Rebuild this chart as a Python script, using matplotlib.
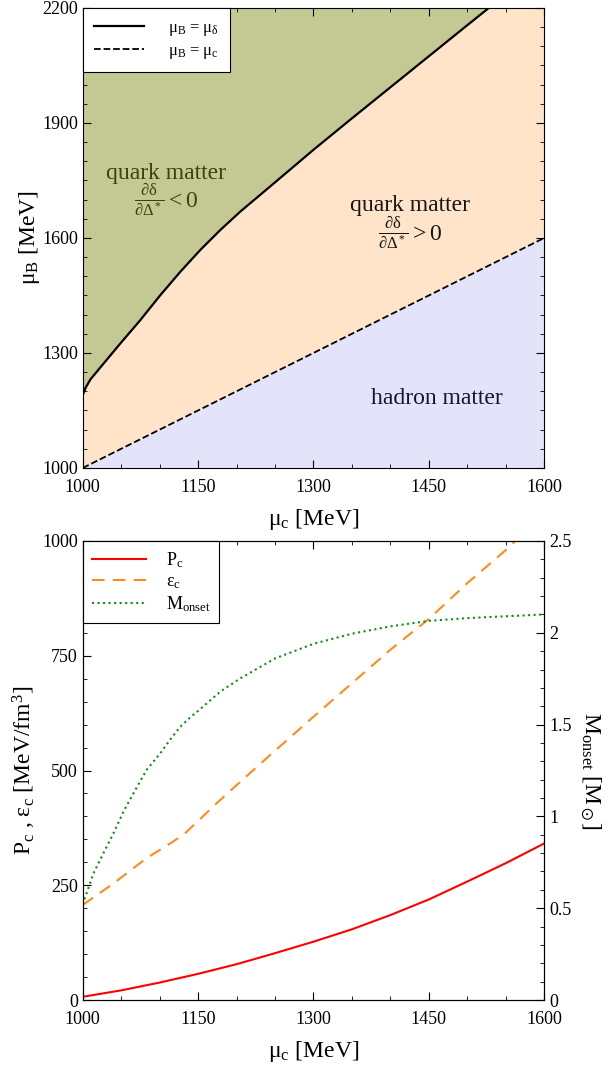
import matplotlib
matplotlib.use("Agg")
import matplotlib.pyplot as plt
from matplotlib.ticker import MultipleLocator

plt.rcParams['font.family'] = 'Liberation Serif'
plt.rcParams['mathtext.fontset'] = 'custom'
plt.rcParams['mathtext.rm'] = 'Liberation Serif'
plt.rcParams['mathtext.it'] = 'Liberation Serif:italic'
plt.rcParams['mathtext.bf'] = 'Liberation Serif:bold'
plt.rcParams['mathtext.fallback'] = 'stix'
plt.rcParams['xtick.direction'] = 'in'
plt.rcParams['ytick.direction'] = 'in'

# top panel: phase boundaries
mu_c_delta = [1000, 1004, 1010, 1022, 1049, 1075, 1101, 1127, 1153, 1179, 1205, 1250,
              1300, 1350, 1400, 1450, 1500, 1528]
mu_B_delta = [1190, 1210, 1231, 1260, 1325, 1386, 1451, 1512, 1569, 1621, 1669, 1745,
              1830, 1912, 1993, 2074, 2155, 2200]
mu_c_line = [1000, 1600]
mu_B_line = [1000, 1600]

# bottom panel
mu_c_P = [1000, 1050, 1100, 1150, 1200, 1250, 1300, 1350, 1400, 1450, 1500, 1550, 1600]
P_c = [7, 21, 38, 57, 78, 102, 127, 154, 185, 219, 258, 298, 341]

mu_c_eps = [1000, 1040, 1083, 1109, 1131, 1150, 1175, 1200, 1250, 1300,
            1350, 1400, 1450, 1500, 1550, 1600]
eps_c = [207, 254, 309, 336, 360, 390, 430, 468, 543, 617,
         690, 763, 830, 908, 980, 1060]

mu_c_M = [1000, 1002, 1014, 1027, 1040, 1053, 1066, 1083, 1101, 1114, 1127, 1140, 1153,
          1179, 1205, 1250, 1300, 1350, 1400, 1450, 1500, 1550, 1600]
M_onset = [0.52, 0.545, 0.69, 0.80, 0.908, 1.026, 1.126, 1.253, 1.344, 1.42, 1.489, 1.54, 1.585,
           1.68, 1.752, 1.86, 1.94, 1.995, 2.035, 2.065, 2.08, 2.09, 2.10]

green_fill = '#c4c994'
peach_fill = '#ffe4c9'
lav_fill = '#e3e3fa'

fig = plt.figure(figsize=(6.14, 10.66), dpi=100)
ax1 = fig.add_axes([0.1347, 0.561, 0.7515, 0.4315])
ax2 = fig.add_axes([0.1347, 0.0619, 0.7515, 0.4306])

# ---- top panel ----
ax1.fill_between(mu_c_line, 0, mu_B_line, color=lav_fill, lw=0)
ax1.fill_between(mu_c_line, mu_B_line, 2200, color=peach_fill, lw=0, zorder=0)
ax1.fill_between(mu_c_delta + [1600], mu_B_delta + [2200], 2200, color=green_fill, lw=0, zorder=0.5)
ax1.plot(mu_c_delta, mu_B_delta, 'k-', lw=1.6, label=r'$\mathrm{\mu_B}$ = $\mathrm{\mu_\delta}$')
ax1.plot(mu_c_line, mu_B_line, 'k--', lw=1.3, label=r'$\mathrm{\mu_B}$ = $\mathrm{\mu_c}$')
ax1.set_xlim(1000, 1600)
ax1.set_ylim(1000, 2200)
ax1.xaxis.set_major_locator(MultipleLocator(150, offset=1000))
ax1.xaxis.set_minor_locator(MultipleLocator(50))
ax1.yaxis.set_major_locator(MultipleLocator(300, offset=1000))
ax1.yaxis.set_minor_locator(MultipleLocator(50))
ax1.set_xlabel(r'$\mathrm{\mu_c}$ [MeV]', fontsize=17, labelpad=8)
ax1.set_ylabel(r'$\mathrm{\mu_B}$ [MeV]', fontsize=17, labelpad=0)

qcol = '#3d4012'
frac_neg = r'$\frac{\mathrm{\partial\delta}}{\mathrm{\partial\Delta^*}}\mathrm{ < 0}$'
frac_pos = r'$\frac{\mathrm{\partial\delta}}{\mathrm{\partial\Delta^*}}\mathrm{ > 0}$'
ax1.text(1108, 1768, 'quark matter', fontsize=17, color=qcol, ha='center', va='center')
ax1.text(1108, 1700, frac_neg, fontsize=17, color=qcol, ha='center', va='center')
ax1.text(1426, 1686, 'quark matter', fontsize=17, color='#151515', ha='center', va='center')
ax1.text(1426, 1615, frac_pos, fontsize=17, color='#151515', ha='center', va='center')
ax1.text(1461, 1182, 'hadron matter', fontsize=17, color='#151530', ha='center', va='center')

leg1 = ax1.legend(loc='upper left', fontsize=12, borderaxespad=0, fancybox=False,
                  edgecolor='black', framealpha=1, handlelength=3.0, handletextpad=1.4,
                  borderpad=0.7, labelspacing=0.3)
leg1.get_frame().set_linewidth(0.8)

# ---- bottom panel ----
l1, = ax2.plot(mu_c_P, P_c, color='#ff0000', lw=1.5, label=r'P$_\mathrm{c}$')
l2, = ax2.plot(mu_c_eps, eps_c, color='#ff8c1a', lw=1.5, ls=(0, (6, 4)),
               label=r'ε$_\mathrm{c}$')
ax2.set_xlim(1000, 1600)
ax2.set_ylim(0, 1000)
ax2.xaxis.set_major_locator(MultipleLocator(150, offset=1000))
ax2.xaxis.set_minor_locator(MultipleLocator(50))
ax2.yaxis.set_major_locator(MultipleLocator(250))
ax2.yaxis.set_minor_locator(MultipleLocator(50))
ax2.set_xlabel(r'$\mathrm{\mu_c}$ [MeV]', fontsize=17, labelpad=8)
ax2.set_ylabel(r'P$_\mathrm{c}$ , ε$_\mathrm{c}$ [MeV/fm$^\mathrm{3}$]', fontsize=17, labelpad=3)

ax3 = ax2.twinx()
l3, = ax3.plot(mu_c_M, M_onset, color='#109010', lw=1.5, ls=':',
               label=r'M$_\mathrm{onset}$')
ax3.set_ylim(0, 2.5)
ax3.yaxis.set_minor_locator(MultipleLocator(0.1))
ax3.set_yticks([0, 0.5, 1, 1.5, 2, 2.5])
ax3.set_yticklabels(['0', '0.5', '1', '1.5', '2', '2.5'])
ax3.set_ylabel(r'M$_\mathrm{onset}$ [M$_\odot$]', fontsize=17, rotation=270, labelpad=22)

leg2 = ax2.legend(handles=[l1, l2, l3], loc='upper left', fontsize=13, borderaxespad=0,
                  fancybox=False, edgecolor='black', framealpha=1, handlelength=3.0,
                  handletextpad=1.1, borderpad=0.5, labelspacing=0.2)
leg2.get_frame().set_linewidth(0.8)

for ax in (ax1, ax2):
    ax.tick_params(which='both', top=True, labelsize=13)
    ax.tick_params(which='major', length=6, width=0.8)
    ax.tick_params(which='minor', length=3, width=0.6)
    ax.tick_params(axis='x', which='major', pad=8)
ax1.tick_params(which='both', right=True)
ax3.tick_params(which='both', labelsize=13)
ax3.tick_params(which='major', length=6, width=0.8)
ax3.tick_params(which='minor', length=3, width=0.6)

plt.savefig("out.png", dpi=100)
